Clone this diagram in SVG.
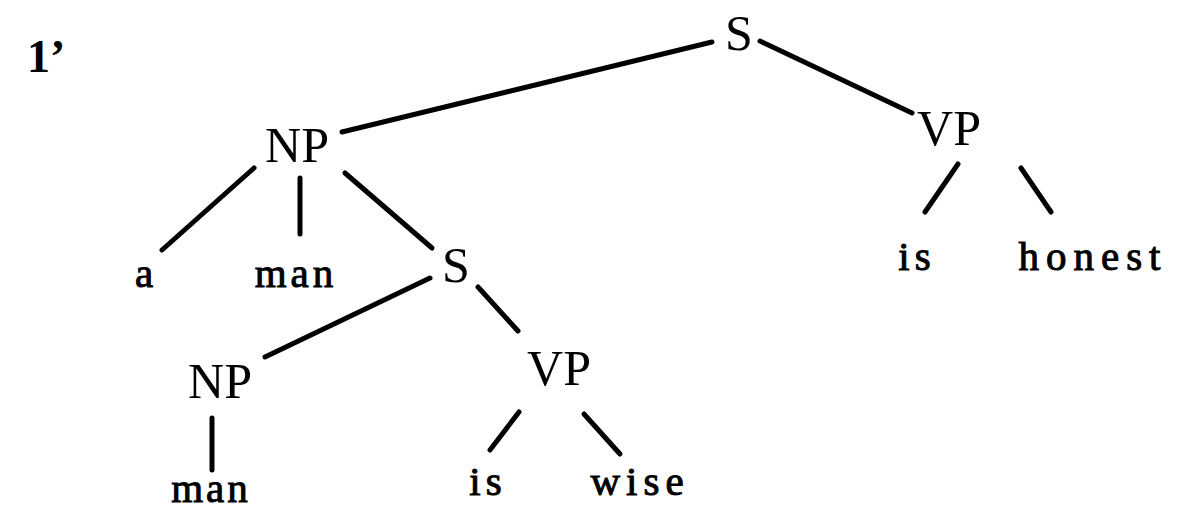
<svg xmlns="http://www.w3.org/2000/svg" width="1189" height="512" viewBox="0 0 1189 512">
<style>
.cat{font-family:"Liberation Serif",serif;font-size:50px;fill:#000;text-anchor:middle}
.word{font-family:"Liberation Serif",serif;font-size:41px;fill:#000;stroke:#000;stroke-width:1;text-anchor:middle}
.edges line{stroke:#000;stroke-width:5;stroke-linecap:round}
</style>
<rect width="1189" height="512" fill="#fff"/>
<text x="27" y="72" font-family="Liberation Serif, serif" font-size="46" font-weight="bold">1’</text>
<g id="edges" class="edges">
<line x1="712" y1="42" x2="342" y2="132"/>
<line x1="760" y1="41" x2="912" y2="113"/>
<line x1="254" y1="168" x2="162" y2="250"/>
<line x1="300" y1="178" x2="300" y2="234"/>
<line x1="345" y1="173" x2="432" y2="248"/>
<line x1="430" y1="278" x2="265" y2="357"/>
<line x1="478" y1="287" x2="518" y2="331"/>
<line x1="212" y1="418" x2="212" y2="470"/>
<line x1="519" y1="412" x2="490" y2="450"/>
<line x1="584" y1="414" x2="620" y2="454"/>
<line x1="958" y1="164" x2="925" y2="212"/>
<line x1="1021" y1="168" x2="1051" y2="212"/>
</g>
<g id="n-S"><text class="cat" x="739" y="50">S</text></g>
<g id="n-NP"><text class="cat" x="297" y="162">NP</text></g>
<g id="n-VP"><text class="cat" x="949" y="145">VP</text></g>
<g id="n-a"><text class="word" x="144" y="287">a</text></g>
<g id="n-man1"><text class="word" x="296" y="287" letter-spacing="4">man</text></g>
<g id="n-S2"><text class="cat" x="456" y="282">S</text></g>
<g id="n-NP2"><text class="cat" x="220" y="398">NP</text></g>
<g id="n-VP2"><text class="cat" x="559" y="385">VP</text></g>
<g id="n-man2"><text class="word" x="211" y="502" letter-spacing="3">man</text></g>
<g id="n-is2"><text class="word" x="488" y="495" letter-spacing="5">is</text></g>
<g id="n-wise"><text class="word" x="640" y="495" letter-spacing="6">wise</text></g>
<g id="n-is1"><text class="word" x="917" y="270" letter-spacing="5">is</text></g>
<g id="n-honest"><text class="word" x="1093" y="270" letter-spacing="7">honest</text></g>
</svg>
